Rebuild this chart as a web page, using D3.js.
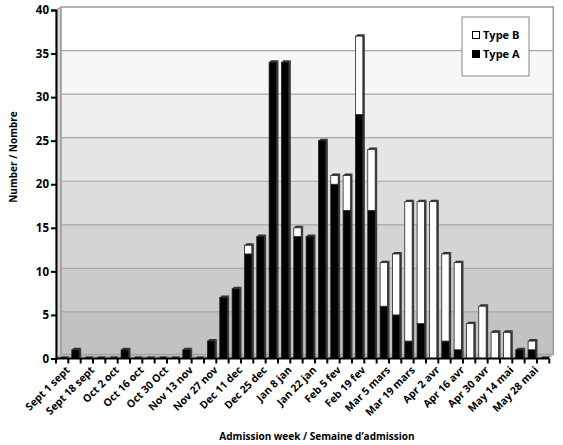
<!DOCTYPE html>
<html>
<head>
<meta charset="utf-8">
<script src="https://cdn.jsdelivr.net/npm/d3@7"></script>
<style>
  body { margin: 0; background: #fff; }
  text { font-family: "Open Sans", sans-serif; font-weight: 700; fill: #000; }
</style>
</head>
<body>
<div id="chart"></div>
<script>
// weekly admissions, Sept -> early June (40 weeks)
var typeA = [0,1,0,0,0,1,0,0,0,0,1,0,2,7,8,12,14,34,34,14,14,25,20,17,28,17,6,5,2,4,0,2,1,0,0,0,0,1,1,0];
var typeB = [0,0,0,0,0,0,0,0,0,0,0,0,0,0,0,1,0,0,0,1,0,0,1,4,9,7,5,7,16,14,18,10,10,4,6,3,3,0,1,0];
// one label every other week
var tickLabels = ["Sept 1 sept","Sept 18 sept","Oct 2 oct","Oct 16 oct","Oct 30 Oct","Nov 13 nov","Nov 27 nov",
  "Dec 11 dec","Dec 25 dec","Jan 8 jan","Jan 22 jan","Feb 5 fev","Feb 19 fev","Mar 5 mars","Mar 19 mars",
  "Apr 2 avr","Apr 16 avr","Apr 30 avr","May 14 mai","May 28 mai"];
var yTicks = [0,5,10,15,20,25,30,35,40];

var width = 563,
    height = 445,
    depth = 4,     // fake 3d wall offset
    bd = 2;        // bar depth

var weeks = d3.range(typeA.length);

var x = d3.scaleBand()
    .domain(weeks)
    .range([56, 549.3]);

var y = d3.scaleLinear()
    .domain([0, 40])
    .range([358.5, 10]);

var svg = d3.select("#chart").append("svg")
    .attr("width", width)
    .attr("height", height);

// back wall, banded grey like the original
var defs = svg.append("defs");
var grad = defs.append("linearGradient")
    .attr("id", "wall")
    .attr("x1", 0).attr("y1", 0).attr("x2", 0).attr("y2", 1);
var bands = ["#ffffff","#f7f7f7","#efefef","#e6e6e6","#dddddd","#d4d4d4","#cbcbcb","#c2c2c2"];
bands.forEach(function(c, i) {
  grad.append("stop").attr("offset", i / bands.length).attr("stop-color", c);
  grad.append("stop").attr("offset", (i + 1) / bands.length).attr("stop-color", c);
});

var wx0 = x.range()[0] + depth + 1, wx1 = x.range()[1] + depth,
    wy0 = y(40) - 3, wy1 = y(0) - depth;

// left wall
svg.append("path")
    .attr("d", "M" + x.range()[0] + "," + y(40) + "L" + wx0 + "," + wy0 + "L" + wx0 + "," + wy1 + "L" + x.range()[0] + "," + y(0) + "Z")
    .attr("fill", "#d8d8d8")
    .attr("stroke", "#999");

svg.append("rect")
    .attr("x", wx0)
    .attr("y", wy0)
    .attr("width", wx1 - wx0)
    .attr("height", wy1 - wy0)
    .attr("fill", "url(#wall)")
    .attr("stroke", "#999")
    .attr("stroke-width", 1.5);

// floor
svg.append("path")
    .attr("d", "M" + x.range()[0] + "," + y(0) + "L" + wx0 + "," + wy1 + "L" + wx1 + "," + wy1 + "L" + x.range()[1] + "," + y(0) + "Z")
    .attr("fill", "#b5b5b5");

// gridlines on the back wall
svg.append("g")
    .selectAll("line")
    .data(yTicks.filter(function(d) { return d > 0 && d < 40; }))
  .enter().append("line")
    .attr("x1", wx0)
    .attr("x2", wx1)
    .attr("y1", function(d) { return y(d) - 3; })
    .attr("y2", function(d) { return y(d) - 3; })
    .attr("stroke", "#a8a8a8")
    .attr("stroke-width", 1.2);

// stacked bars
var series = d3.stack().keys(["a", "b"])(weeks.map(function(i) { return {a: typeA[i], b: typeB[i]}; }));
var fills = {a: "#000", b: "#fff"};
var bw = x.bandwidth() * 0.6;

function barX(i) { return x(i) + x.bandwidth() * 0.28; }

series.forEach(function(s) {
  var g = svg.append("g");
  s.forEach(function(d, i) {
    if (d[1] - d[0] <= 0) return;
    var x0 = barX(i), yt = y(d[1]), yb = y(d[0]);
    // side
    g.append("path")
        .attr("d", "M" + (x0 + bw) + "," + yt + "l" + bd + "," + (-bd) + "L" + (x0 + bw + bd) + "," + (yb - bd) + "L" + (x0 + bw) + "," + yb + "Z")
        .attr("fill", "#3a3a3a");
    // top
    g.append("path")
        .attr("d", "M" + x0 + "," + yt + "l" + bd + "," + (-bd) + "l" + bw + ",0l" + (-bd) + "," + bd + "Z")
        .attr("fill", "#333");
    g.append("rect")
        .attr("x", x0)
        .attr("y", yt)
        .attr("width", bw)
        .attr("height", yb - yt)
        .attr("fill", fills[s.key])
        .attr("stroke", "#222")
        .attr("stroke-width", 0.8);
  });
});

// flat tops for empty weeks
svg.append("g")
    .selectAll("path")
    .data(weeks.filter(function(i) { return typeA[i] + typeB[i] === 0; }))
  .enter().append("path")
    .attr("d", function(i) { var x0 = barX(i), y0 = y(0); return "M" + x0 + "," + y0 + "l" + bd + "," + (-bd) + "l" + bw + ",0l" + (-bd) + "," + bd + "Z"; })
    .attr("fill", "#222");

// axes
var yAxis = d3.axisLeft(y)
    .tickValues(yTicks)
    .tickSize(5)
    .tickPadding(2);

var gy = svg.append("g")
    .attr("transform", "translate(" + x.range()[0] + ",0)")
    .call(yAxis);
gy.select(".domain").attr("stroke-width", 2);
gy.selectAll(".tick line").attr("stroke-width", 2);
gy.selectAll("text").attr("font-size", 11.5).attr("font-family", "Open Sans").attr("font-weight", 700);

var xAxis = d3.axisBottom(x)
    .tickSize(0)
    .tickFormat(function(i) { return i % 2 === 0 ? tickLabels[i / 2] : ""; });

var gx = svg.append("g")
    .attr("transform", "translate(0," + y(0) + ")")
    .call(xAxis);
gx.select(".domain").attr("stroke-width", 2).attr("d", "M" + x.range()[0] + ",0H" + x.range()[1]);
gx.selectAll("text")
    .attr("font-size", 10.5)
    .attr("font-family", "Open Sans")
    .attr("font-weight", 700)
    .attr("text-anchor", "end")
    .attr("transform", "translate(3,7) rotate(-45)")
    .attr("dy", "0.7em")
    .attr("y", 0);

// tick marks between weeks
svg.append("g")
    .selectAll("line")
    .data(d3.range(typeA.length + 1))
  .enter().append("line")
    .attr("x1", function(i) { return x.range()[0] + i * x.step(); })
    .attr("x2", function(i) { return x.range()[0] + i * x.step(); })
    .attr("y1", y(0))
    .attr("y2", y(0) + 5)
    .attr("stroke", "#000")
    .attr("stroke-width", 2);

// axis titles
svg.append("text")
    .attr("transform", "translate(17,157) rotate(-90)")
    .attr("text-anchor", "middle")
    .attr("font-size", 10)
    .text("Number / Nombre");

svg.append("text")
    .attr("x", 317)
    .attr("y", 440)
    .attr("text-anchor", "middle")
    .attr("font-size", 10)
    .text("Admission week / Semaine d\u2019admission");

// legend
var legend = svg.append("g").attr("transform", "translate(462,17)");
legend.append("rect")
    .attr("width", 67)
    .attr("height", 59)
    .attr("fill", "#fff")
    .attr("stroke", "#888");
var legendItems = [{label: "Type B", key: "b"}, {label: "Type A", key: "a"}];
legendItems.forEach(function(d, i) {
  legend.append("rect")
      .attr("x", 10.5)
      .attr("y", 14.5 + i * 19)
      .attr("width", 7)
      .attr("height", 7)
      .attr("fill", fills[d.key])
      .attr("stroke", "#000");
  legend.append("text")
      .attr("x", 21)
      .attr("y", 22 + i * 19)
      .attr("font-size", 11)
      .text(d.label);
});
</script>
</body>
</html>
